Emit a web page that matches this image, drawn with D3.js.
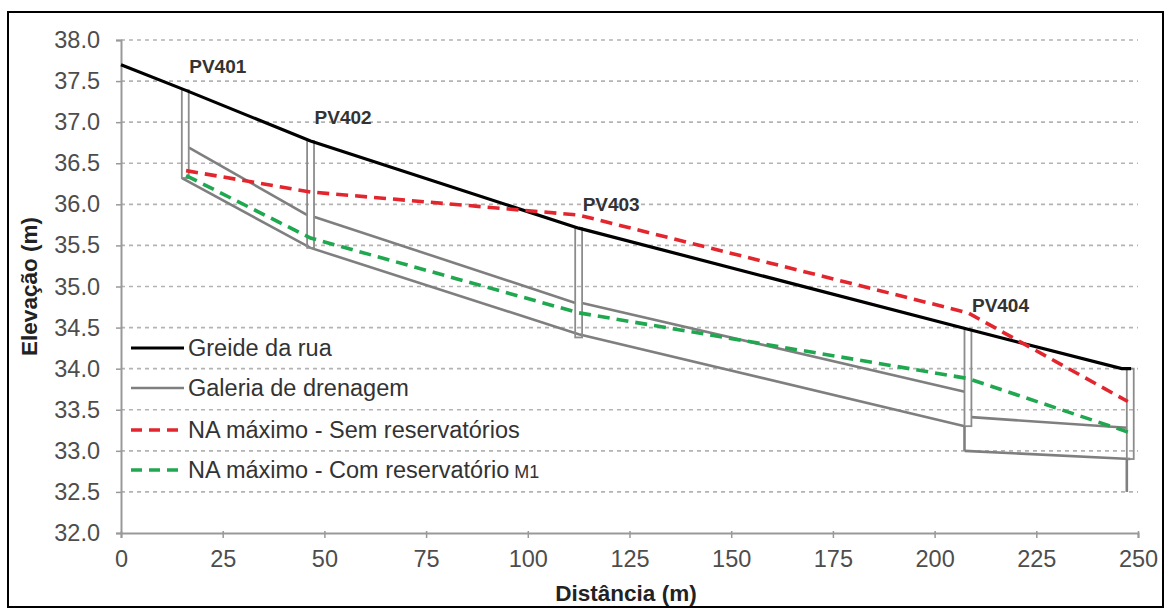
<!DOCTYPE html>
<html><head><meta charset="utf-8">
<script src="https://cdn.jsdelivr.net/npm/d3@7"></script>
<style>
html,body{margin:0;padding:0;background:#fff;}
svg{display:block;font-family:"Liberation Sans",Arial,sans-serif;}
</style></head>
<body><svg id="c" width="1168" height="610"></svg>
<script>
// ---- data ----
const distTicks = [0,25,50,75,100,125,150,175,200,225,250];
const elevTicks = [32.0,32.5,33.0,33.5,34.0,34.5,35.0,35.5,36.0,36.5,37.0,37.5,38.0];
const greide = [[0,37.70],[15.8,37.39],[46.6,36.77],[112.5,35.71],[208.2,34.48],[246,34.00],[248.3,34.00]];
const pvNames  = ["PV401","PV402","PV403","PV404",""];
const pvDist   = [15.8, 46.6, 112.5, 208.2, 248.1];
const pvTop    = [37.39, 36.77, 35.71, 34.48, 34.00];
const pvBottom = [36.32, 35.47, 34.38, 33.30, 32.90];
const pvSump   = [null, null, null, 33.00, 32.50];
const galTopSegs = [
  [[16.7,36.69],[45.8,35.87]],
  [[47.4,35.85],[111.7,34.80]],
  [[113.3,34.80],[207.4,33.72]],
  [[209.0,33.41],[247.3,33.28]]
];
const galBottom  = [[15.0,36.32],[46.6,35.47],[112.5,34.42],[207.4,33.30]];
const galBottom2 = [[207.4,33.00],[248.1,32.90]];
const naSem = [[16.0,36.41],[46.6,36.15],[112.5,35.87],[208.2,34.68],[247.5,33.60]];
const naCom = [[16.0,36.35],[46.6,35.59],[112.5,34.68],[208.2,33.88],[247.5,33.23]];
const legendLabels = ["Greide da rua","Galeria de drenagem","NA máximo - Sem reservatórios","NA máximo - Com reservatório"];

// ---- drawing ----
const svg = d3.select("#c");
const x = d3.scaleLinear().domain([0,250]).range([121,1138]);
const y = d3.scaleLinear().domain([32,38]).range([533,40]);
const line = d3.line().x(d=>x(d[0])).y(d=>y(d[1]));

const RED="#e3262e", GREEN="#1fa84f", GRAY="#7f7f7f", TXT="#4d4d4d";

svg.append("rect").attr("x",8).attr("y",12).attr("width",1155).attr("height",595)
  .attr("fill","#fff").attr("stroke","#000").attr("stroke-width",2);

// gridlines
svg.append("g").selectAll("line").data(elevTicks.filter(v=>v>32)).join("line")
  .attr("x1",x(0)).attr("x2",x(250)).attr("y1",d=>y(d)).attr("y2",d=>y(d))
  .attr("stroke","#b3b3b3").attr("stroke-width",1.6).attr("stroke-dasharray","4,4");

// axes
const xAxis = d3.axisBottom(x).tickValues(distTicks).tickSize(5).tickPadding(12).tickFormat(d3.format("d"));
const gx = svg.append("g").attr("transform",`translate(0,${y(32)})`).call(xAxis);
const yAxis = d3.axisLeft(y).tickValues(elevTicks).tickSize(5).tickPadding(16).tickFormat(d3.format(".1f"));
const gy = svg.append("g").attr("transform",`translate(${x(0)},0)`).call(yAxis);
[gx,gy].forEach(g=>{
  g.select(".domain").attr("stroke","#999").attr("stroke-width",2);
  g.selectAll(".tick line").attr("stroke","#999").attr("stroke-width",1.5);
  g.selectAll(".tick text").attr("fill",TXT).attr("font-size",23.5)
    .attr("font-family","'Liberation Sans',Arial,sans-serif");
});
gx.selectAll(".tick line").attr("y1",-2);

// axis titles
svg.append("text").attr("x",626).attr("y",601).attr("text-anchor","middle")
  .attr("font-size",22.5).attr("font-weight","bold").attr("fill","#222").text("Distância (m)");
svg.append("text").attr("transform",`translate(37,${y(35)}) rotate(-90)`).attr("text-anchor","middle")
  .attr("font-size",22.5).attr("font-weight","bold").attr("fill","#222").text("Elevação (m)");

// gallery
const gal = svg.append("g").attr("fill","none").attr("stroke",GRAY).attr("stroke-width",2.6);
galTopSegs.forEach(s=>gal.append("path").attr("d",line(s)));
gal.append("path").attr("d",line(galBottom));
gal.append("path").attr("d",line(galBottom2));
// manholes
const pvg = svg.append("g");
pvDist.forEach((d,i)=>{
  const hw=0.85;
  pvg.append("rect").attr("x",x(d-hw)).attr("width",x(d+hw)-x(d-hw))
    .attr("y",y(pvTop[i])).attr("height",y(pvBottom[i])-y(pvTop[i]))
    .attr("fill","none").attr("stroke","#8c8c8c").attr("stroke-width",1.8);
  if(pvSump[i]!==null){
    pvg.append("line").attr("x1",x(d-hw)).attr("x2",x(d-hw)).attr("y1",y(pvBottom[i])).attr("y2",y(pvSump[i]))
      .attr("stroke",GRAY).attr("stroke-width",2.6);
  }
  if(pvNames[i]){
    svg.append("text").attr("x",x(d)+4).attr("y",y(pvTop[i])-17)
      .attr("font-size",19).attr("font-weight","bold").attr("fill","#333").text(pvNames[i]);
  }
});

// street grade
svg.append("path").attr("d",line(greide)).attr("fill","none").attr("stroke","#000").attr("stroke-width",3.2);
// water levels
svg.append("path").attr("d",line(naSem)).attr("fill","none").attr("stroke",RED).attr("stroke-width",3.6).attr("stroke-dasharray","12,7");
svg.append("path").attr("d",line(naCom)).attr("fill","none").attr("stroke",GREEN).attr("stroke-width",3.6).attr("stroke-dasharray","12,7");

// legend
const legStyles = [
  {c:"#000",w:3.2,dash:null},
  {c:GRAY,w:2.6,dash:null},
  {c:RED,w:3.6,dash:"11,7"},
  {c:GREEN,w:3.6,dash:"11,7"}
];
const legY = [348,388,430,470];
legendLabels.forEach((t,i)=>{
  const s=legStyles[i];
  const l=svg.append("line").attr("x1",131).attr("x2",184).attr("y1",legY[i]).attr("y2",legY[i])
    .attr("stroke",s.c).attr("stroke-width",s.w);
  if(s.dash) l.attr("stroke-dasharray",s.dash);
  const tx=svg.append("text").attr("x",188).attr("y",legY[i]+8).attr("font-size",23.5).attr("fill","#333").text(t);
  if(i===3) tx.append("tspan").attr("font-size",18).text(" M1");
});
</script></body></html>
